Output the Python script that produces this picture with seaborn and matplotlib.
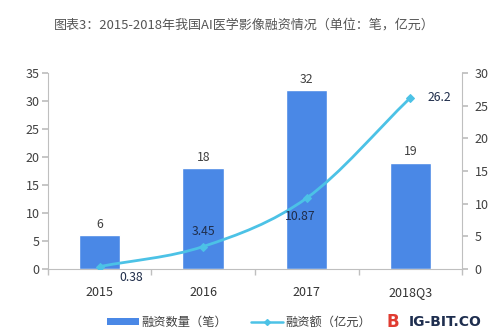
import numpy as np
import pandas as pd
import matplotlib
matplotlib.use("Agg")
import matplotlib.pyplot as plt
from matplotlib.path import Path
from matplotlib.patches import PathPatch, Patch
from matplotlib.lines import Line2D
import seaborn as sns

# Data
periods = ["2015", "2016", "2017", "2018Q3"]
deal_counts = [6, 18, 32, 19]           # 融资数量（笔）
deal_amounts = [0.38, 3.45, 10.87, 26.2]  # 融资额（亿元）
amount_labels = ["0.38", "3.45", "10.87", "26.2"]

title = "图表3：2015-2018年我国AI医学影像融资情况（单位：笔，亿元）"
bar_name = "融资数量（笔）"
line_name = "融资额（亿元）"

sns.set_theme(style="white")
plt.rcParams["font.family"] = ["Noto Sans CJK SC", "DejaVu Sans"]

BAR_C = "#4A88E6"
LINE_C = "#4CC2E6"
AX_C = "#BFBFBF"
TXT_C = "#404040"

df = pd.DataFrame({"period": periods, "count": deal_counts, "amount": deal_amounts})

fig = plt.figure(figsize=(4.88, 3.33), dpi=100)
ax = fig.add_axes([0.098, 0.192, 0.849, 0.589])

sns.barplot(data=df, x="period", y="count", color=BAR_C, width=0.40,
            saturation=1, ax=ax)
ax.set_ylim(0, 35)
ax.set_yticks(range(0, 36, 5))
ax.set_xlim(-0.5, 3.5)
ax.set_xlabel("")
ax.set_ylabel("")

for i, v in enumerate(deal_counts):
    ax.annotate(str(v), (i, v), xytext=(0, 3), textcoords="offset points",
                ha="center", va="bottom", fontsize=8.8, color=TXT_C)

# Secondary axis: funding amount
ax2 = ax.twinx()
ax2.set_ylim(0, 30)
ax2.set_yticks(range(0, 31, 5))
xs = np.arange(len(periods), dtype=float)
ys = np.array(deal_amounts, dtype=float)

# Smooth curve through the points (Catmull-Rom converted to cubic Bezier)
pts = np.column_stack([xs, ys])
ext = np.vstack([pts[0] - (pts[1] - pts[0]), pts, pts[-1] + (pts[-1] - pts[-2])])
verts = [tuple(pts[0])]
codes = [Path.MOVETO]
for k in range(1, len(ext) - 2):
    p0, p1, p2, p3 = ext[k - 1], ext[k], ext[k + 1], ext[k + 2]
    c1 = p1 + (p2 - p0) / 6.0
    c2 = p2 - (p3 - p1) / 6.0
    verts += [tuple(c1), tuple(c2), tuple(p2)]
    codes += [Path.CURVE4] * 3
ax2.add_patch(PathPatch(Path(verts, codes), facecolor="none", edgecolor=LINE_C,
                        lw=2.0, zorder=3))
sns.lineplot(x=xs, y=ys, ax=ax2, color=LINE_C, marker="D", markersize=4,
             linestyle="", markeredgecolor=LINE_C, zorder=4)

label_offsets = [(23, -8), (0, 6), (-5, -13), (21, 0)]
label_va = ["center", "bottom", "center", "center"]
for i, (v, lab) in enumerate(zip(deal_amounts, amount_labels)):
    dx, dy = label_offsets[i]
    ax2.annotate(lab, (i, v), xytext=(dx, dy), textcoords="offset points",
                 ha="center", va=label_va[i], fontsize=8.8, color="#1F2D4A")

# Axes styling
for a in (ax, ax2):
    for s in a.spines.values():
        s.set_color(AX_C)
        s.set_linewidth(0.8)
    a.spines["top"].set_visible(False)
    a.grid(False)
ax.spines["right"].set_visible(False)
ax2.spines["left"].set_visible(False)
ax2.spines["bottom"].set_visible(False)

ax.tick_params(axis="y", length=4, color=AX_C, labelsize=9, labelcolor=TXT_C,
               pad=2, left=True)
ax2.tick_params(axis="y", length=4, color=AX_C, labelsize=9, labelcolor=TXT_C,
                pad=5, right=True)
ax.set_xticks(xs)
ax.set_xticklabels(periods)
ax.tick_params(axis="x", length=0, labelsize=9, labelcolor="#333333", pad=12)
ax.set_xticks(np.arange(-0.5, 4.0, 1.0), minor=True)
ax.tick_params(axis="x", which="minor", length=4, color=AX_C, bottom=True)

fig.text(0.5, 0.925, title, ha="center", va="center", fontsize=9.4, color="#555555")

handles = [Patch(facecolor=BAR_C, edgecolor="none"),
           Line2D([0], [0], color=LINE_C, lw=1.8, marker="D", markersize=3)]
fig.legend(handles, [bar_name, line_name], loc="center", ncol=2,
           bbox_to_anchor=(0.49, 0.033), frameon=False, fontsize=8.8,
           handlelength=2.6, handleheight=0.55, handletextpad=0.2,
           columnspacing=2.0, labelcolor=TXT_C)

fig.text(0.793, 0.033, "B", ha="left", va="center", fontsize=12,
         fontweight="bold", color="#E03C31", family="DejaVu Sans")
fig.text(0.838, 0.033, "IG-BIT.CO", ha="left", va="center", fontsize=10,
         fontweight="bold", color="#1E2E4F", family="DejaVu Sans")

fig.savefig("out.png", dpi=100)
